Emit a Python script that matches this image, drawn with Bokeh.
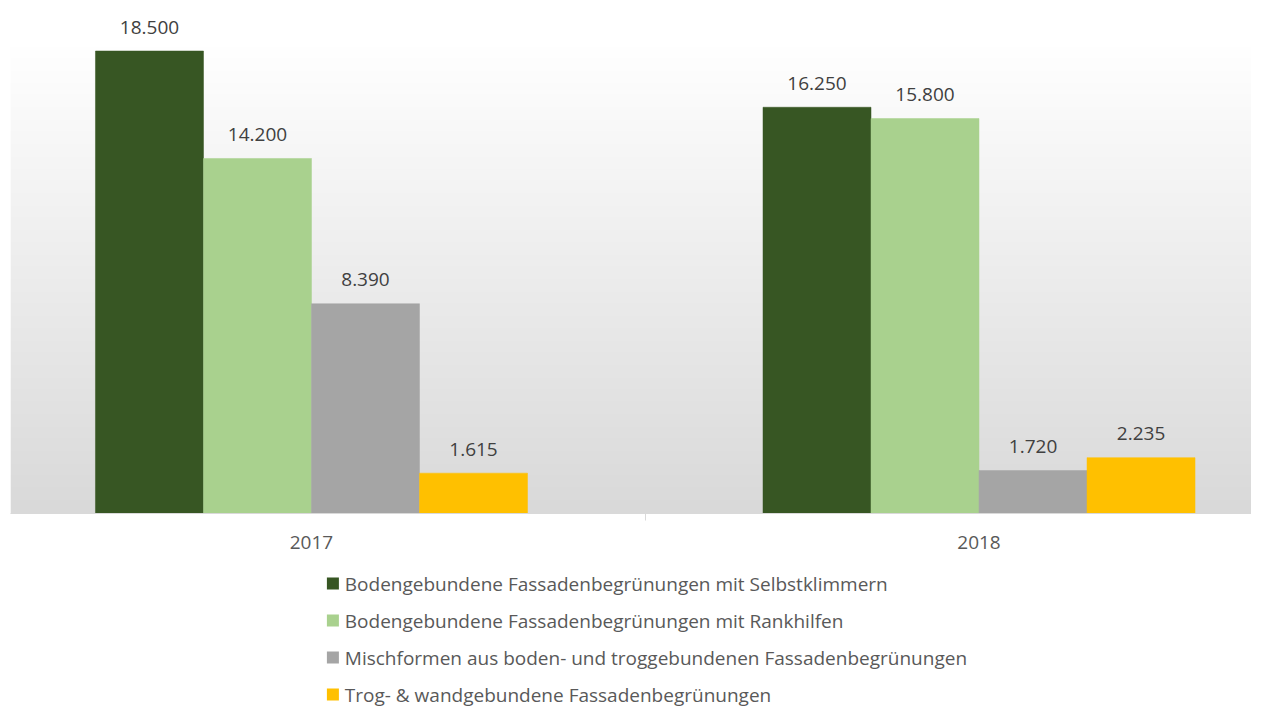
import numpy as np
from bokeh.plotting import figure
from bokeh.layouts import column
from bokeh.models import ColumnDataSource, Range1d, FixedTicker
from bokeh.core.properties import value
from bokeh.embed import file_html
from bokeh.resources import INLINE

# ---- data ----
categories = ["2017", "2018"]
series_names = [
    "Bodengebundene Fassadenbegrünungen mit Selbstklimmern",
    "Bodengebundene Fassadenbegrünungen mit Rankhilfen",
    "Mischformen aus boden- und troggebundenen Fassadenbegrünungen",
    "Trog- & wandgebundene Fassadenbegrünungen",
]
selbstklimmer = [18500, 16250]
rankhilfen = [14200, 15800]
mischformen = [8390, 1720]
trog_wand = [1615, 2235]
series_values = [selbstklimmer, rankhilfen, mischformen, trog_wand]
colors = ["#375623", "#a9d18e", "#a5a5a5", "#ffc000"]

FONT = "Open Sans"
TEXT_COLOR = "#595959"
LABEL_COLOR = "#404040"

W = 1251
H_MAIN = 560
H_LEG = 146
bar_w = 0.1618
x0, x1 = -0.4509, 1.4082
y_max = 20520
grad_top = 18720

p = figure(width=W, height=H_MAIN, output_backend="svg", toolbar_location=None,
           x_range=Range1d(x0, x1), y_range=Range1d(0, y_max),
           y_axis_location=None, min_border_left=10, min_border_right=0,
           min_border_top=0, min_border_bottom=H_MAIN - 513,
           background_fill_color="white", border_fill_color="white")
p.outline_line_color = None
p.grid.visible = False

# gradient background (white at top -> light grey at bottom)
n = 256
g = np.linspace(0xd9, 0xff, n).astype(np.uint8)
img = np.zeros((n, 1), dtype=np.uint32)
view = img.view(dtype=np.uint8).reshape((n, 1, 4))
view[:, 0, 0] = g
view[:, 0, 1] = g
view[:, 0, 2] = g
view[:, 0, 3] = 255
p.image_rgba(image=[img], x=x0, y=0, dw=(x1 - x0) + 0.05, dh=grad_top)

cat_idx = np.arange(len(categories))
offsets = [-1.5, -0.5, 0.5, 1.5]
for name, vals, col, off in zip(series_names, series_values, colors, offsets):
    src = ColumnDataSource(dict(
        x=cat_idx + off * bar_w,
        top=vals,
        lbl=[f"{v:,}".replace(",", ".") for v in vals],
    ))
    p.vbar(x="x", top="top", width=bar_w, bottom=0, source=src,
           fill_color=col, line_color=col, line_width=0.5)
    p.text(x="x", y="top", text="lbl", source=src, text_align="center",
           text_baseline="middle", y_offset=-24, text_font=value(FONT),
           text_font_size="19px", text_color=LABEL_COLOR)

ax = p.xaxis[0]
ax.ticker = FixedTicker(ticks=list(cat_idx.astype(float)), minor_ticks=[0.5])
ax.major_label_overrides = {float(i): c for i, c in zip(cat_idx, categories)}
ax.major_tick_line_color = None
ax.major_tick_out = 0
ax.major_tick_in = 0
ax.minor_tick_line_color = "#d9d9d9"
ax.minor_tick_out = 7
ax.minor_tick_in = 0
ax.axis_line_color = "#d9d9d9"
ax.axis_line_width = 1
ax.major_label_standoff = 15
ax.major_label_text_font = FONT
ax.major_label_text_font_size = "19px"
ax.major_label_text_color = TEXT_COLOR

# ---- legend panel (separate figure in pixel coordinates) ----
lg = figure(width=W, height=H_LEG, output_backend="svg", toolbar_location=None,
            x_range=Range1d(0, W), y_range=Range1d(H_LEG, 0),
            x_axis_location=None, y_axis_location=None,
            min_border_left=0, min_border_right=0, min_border_top=0,
            min_border_bottom=0,
            background_fill_color="white", border_fill_color="white")
lg.outline_line_color = None
lg.grid.visible = False

first_row = 23
pitch = 37
row_y = [first_row + i * pitch for i in range(len(series_names))]
sq_x = 325
lsrc = ColumnDataSource(dict(
    x=[sq_x] * len(series_names), y=row_y, name=series_names, color=colors,
    tx=[sq_x + 12] * len(series_names),
))
lg.rect(x="x", y="y", width=12, height=12, width_units="screen",
        height_units="screen", source=lsrc, fill_color="color", line_color=None)
lg.text(x="tx", y="y", text="name", source=lsrc, text_align="left",
        text_baseline="middle", text_font=value(FONT), text_font_size="19px",
        text_color=TEXT_COLOR)

layout = column(p, lg, spacing=0)
open("out.html", "w").write(file_html(layout, INLINE))
